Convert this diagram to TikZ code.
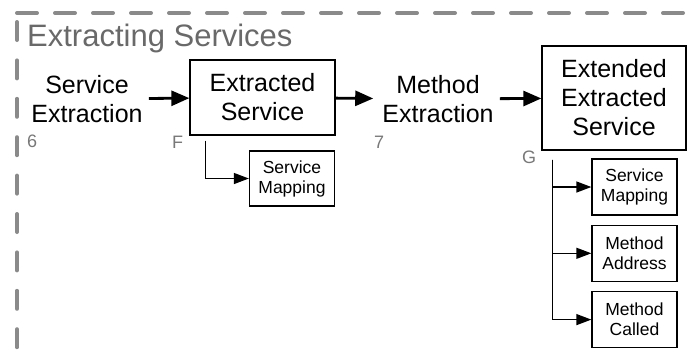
\documentclass[tikz,border=0pt]{standalone}
\usepackage{fontspec}
\setmainfont{Liberation Sans}
\usepackage{tikz}
\usetikzlibrary{positioning,arrows.meta}

\definecolor{framegray}{RGB}{138,138,138}
\definecolor{titlegray}{RGB}{105,105,105}
\definecolor{taggray}{RGB}{120,120,120}

\tikzset{
    box/.style={draw, line width=1.3pt, inner sep=0pt, align=center},
    smallbox/.style={box, minimum width=85pt, minimum height=56pt, font=\fontsize{17.5}{20}\selectfont},
    bigarrow/.style={line width=2.8pt, -{Triangle[length=18pt,width=15pt]}},
    thinarrow/.style={line width=1.3pt, -{Triangle[length=15pt,width=11pt]}},
    numtag/.style={anchor=base west, inner sep=0pt, text=taggray, font=\fontsize{18}{18}\selectfont},
    frame/.style={line width=4pt, draw=framegray, line cap=round}
}

\begin{document}
\begin{tikzpicture}[x=1pt, y=-1pt, font=\fontsize{25}{29}\selectfont]
                \useasboundingbox (0,0) rectangle (688,360);

                % dashed frame
                \draw[frame, dash pattern=on 20pt off 18pt] (17,13) -- (710,13);
                \draw[frame, dash pattern=on 18pt off 20.4pt] (17,22) -- (17,380);

                \node[anchor=base west, inner sep=0pt, text=titlegray, font=\fontsize{31}{31}\selectfont] (title) at (27,46) {Extracting Services};

                \node[align=center, inner sep=4pt] (sext) at (87,99) {Service\\Extraction};
                \node[box, minimum width=145pt, minimum height=75pt] (exsrv) at (262.5,97.5) {Extracted\\Service};
                \node[align=center, inner sep=4pt] (mext) at (438,99) {Method\\Extraction};
                \node[box, minimum width=144pt, minimum height=104pt] (extsrv) at (614,98) {Extended\\Extracted\\Service};

                \node[smallbox, minimum height=55pt] (smapa) at (292,178.5) {Service\\Mapping};
                \node[smallbox] (smapb) at (634.5,187) {Service\\Mapping};
                \node[smallbox, below=9pt of smapb] (maddr) {Method\\Address};
                \node[smallbox, below=9pt of maddr] (mcall) {Method\\Called};

                \node[numtag] (tsix) at (27,147) {6};
                \node[numtag] (tf) at (172,148) {F};
                \node[numtag] (tseven) at (374,148) {7};
                \node[numtag] (tg) at (522,163) {G};

                \draw[bigarrow, shorten <=2pt] (sext) -- (exsrv);
                \draw[bigarrow, shorten >=5pt] (exsrv) -- (mext);
                \draw[bigarrow, shorten <=2pt] (mext) -- (extsrv);

                \draw[thinarrow] ([xshift=16pt,yshift=-5pt]exsrv.south west) |- (smapa);
                \draw[thinarrow] ([xshift=11pt,yshift=-9pt]extsrv.south west) |- (smapb);
                \draw[thinarrow] ([xshift=11pt,yshift=-9pt]extsrv.south west) |- (maddr);
                \draw[thinarrow] ([xshift=11pt,yshift=-9pt]extsrv.south west) |- (mcall);
            \end{tikzpicture}
\end{document}
